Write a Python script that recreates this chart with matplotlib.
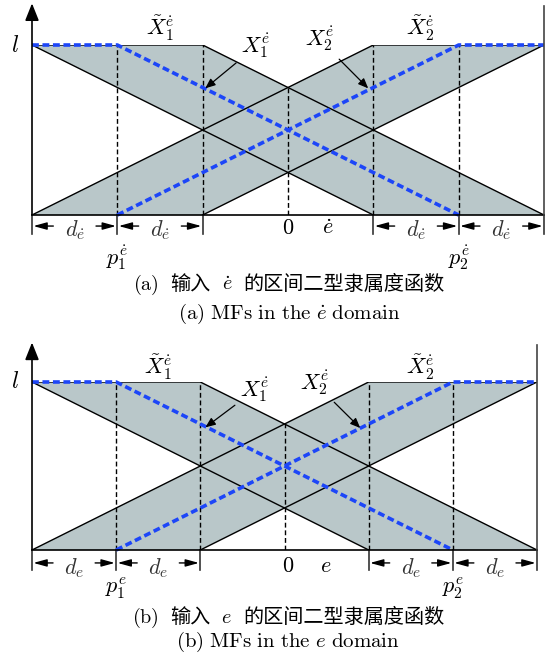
import numpy as np
import matplotlib.pyplot as plt
from matplotlib.offsetbox import TextArea, HPacker, AnnotationBbox

plt.rcParams["mathtext.fontset"] = "cm"
plt.rcParams["font.family"] = ["DejaVu Serif", "Noto Sans CJK SC"]

# Interval type-2 MFs, x in units of d, membership in [0, l]
upper1_x = [-3, -1, 3]
upper1_y = [1, 1, 0]
lower1_x = [-3, 1]
lower1_y = [1, 0]
upper2_x = [-3, 1, 3]
upper2_y = [0, 1, 1]
lower2_x = [-1, 3]
lower2_y = [0, 1]

# Embedded type-1 sets X1, X2
type1_1_x = [-3, -2, 2]
type1_1_y = [1, 1, 0]
type1_2_x = [-2, 2, 3]
type1_2_y = [0, 1, 1]

# Dashed guides and dimension ticks
guide_x = [-2, -1, 0, 1, 2]
guide_top = [1, 1, 0.75, 1, 1]
dim_ticks = [-3, -2, -1, 1, 2, 3]

panel_vars = [r"\dot{e}", "e"]
panel_tags = ["a", "b"]

GRAY = "#b9c7c9"
BLUE = "#1d46f8"
FS = 16
CAP_FS = 14.5


def draw_panel(ax, var, lab):
    ax.set_xlim(-3, 3)
    ax.set_ylim(0, 1)
    ax.set_axis_off()

    # footprints of uncertainty
    for ux, uy, lx, ly in [(upper1_x, upper1_y, lower1_x, lower1_y),
                           (upper2_x, upper2_y, lower2_x, lower2_y)]:
        px = np.concatenate([ux, lx[::-1]])
        py = np.concatenate([uy, ly[::-1]])
        ax.fill(px, py, color=GRAY, lw=0, zorder=1)
        ax.plot(ux, uy, color="black", lw=1.0, zorder=3)
        ax.plot(lx, ly, color="black", lw=1.0, zorder=3)

    for gx, gt in zip(guide_x, guide_top):
        ax.plot([gx, gx], [0, gt], color="black", lw=1.0, ls=(0, (3.5, 2)), zorder=3)

    for tx, ty in [(type1_1_x, type1_1_y), (type1_2_x, type1_2_y)]:
        ax.plot(tx, ty, color=BLUE, lw=2.6, dashes=(1.9, 1.0), zorder=4, clip_on=False)

    # axes
    ax.plot([-3, 3], [0, 0], color="black", lw=1.2, zorder=5, clip_on=False)
    ax.plot([3, 3], [0, lab["top"]], color="#444444", lw=1.2, zorder=5, clip_on=False)
    ax.annotate("", xy=(-3, lab["top"] + 0.015), xytext=(-3, 0),
                arrowprops=dict(arrowstyle="-|>,head_length=0.7,head_width=0.28",
                                color="black", lw=1.2, mutation_scale=15, shrinkA=0, shrinkB=0),
                annotation_clip=False, zorder=5)

    # dimension arrows below the axis
    for tx in dim_ticks:
        ax.plot([tx, tx], [0, lab["tick"]], color="#333333", lw=1.2, clip_on=False)
    for a, b in zip(dim_ticks[:-1], dim_ticks[1:]):
        if a == -1:
            continue
        for s, e in [((a + b) / 2 - 0.25, a), ((a + b) / 2 + 0.25, b)]:
            ax.annotate("", xy=(e, lab["arrow"]), xytext=(s, lab["arrow"]),
                        arrowprops=dict(arrowstyle="-|>,head_length=0.8,head_width=0.22",
                                        color="black", lw=1.0, mutation_scale=10,
                                        shrinkA=0, shrinkB=1),
                        annotation_clip=False)
        ax.text((a + b) / 2, lab["d"], rf"$d_{{{var}}}$", fontsize=FS,
                ha="center", va="center", color="#333333")

    ax.text(lab["zero"], lab["d"] + 0.01, r"$0$", fontsize=FS, ha="center", va="center")
    ax.text(lab["var"], lab["d"] + 0.01, rf"${var}$", fontsize=FS, ha="center", va="center")
    ax.text(-2, lab["p"], rf"$p_1^{{{var}}}$", fontsize=FS, ha="center", va="center")
    ax.text(2, lab["p"], rf"$p_2^{{{var}}}$", fontsize=FS, ha="center", va="center")

    ax.text(-3.2, 1.0, r"$l$", fontsize=FS + 1, ha="center", va="center")
    ax.text(-1.5, lab["tl1"], r"$\tilde{X}_1^{\dot{e}}$", fontsize=FS, ha="center", va="center")
    ax.text(lab["tl2x"], lab["tl1"], r"$\tilde{X}_2^{\dot{e}}$", fontsize=FS, ha="center", va="center")

    ax.annotate(r"$X_1^{\dot{e}}$", xy=lab["h1"], xytext=lab["t1"], fontsize=FS,
                ha="left", va="center",
                arrowprops=dict(arrowstyle="-|>,head_length=0.6,head_width=0.25", color="black",
                                lw=0.9, mutation_scale=10, shrinkA=2, shrinkB=0),
                zorder=6)
    ax.annotate(r"$X_2^{\dot{e}}$", xy=lab["h2"], xytext=lab["t2"], fontsize=FS,
                ha="center", va="center",
                arrowprops=dict(arrowstyle="-|>,head_length=0.6,head_width=0.25", color="black",
                                lw=0.9, mutation_scale=10, shrinkA=2, shrinkB=0),
                zorder=6)


def caption(fig, x, y_cn, y_en, tag, var):
    cn = dict(family=["Noto Sans CJK SC"], fontsize=CAP_FS)
    mt = dict(fontsize=CAP_FS)
    parts = [TextArea(rf"$\mathrm{{({tag})}}$", textprops=mt),
             TextArea("输入", textprops=cn),
             TextArea(rf"${var}$", textprops=mt),
             TextArea("的区间二型隶属度函数", textprops=cn)]
    box = HPacker(children=parts, sep=8, align="baseline", pad=0)
    fig.add_artist(AnnotationBbox(box, (x, y_cn), xycoords="figure fraction",
                                  frameon=False, box_alignment=(0.5, 0.5)))
    fig.text(x, y_en, rf"$\mathrm{{({tag})\ MFs\ in\ the\ }}{var}\mathrm{{\ domain}}$",
             fontsize=CAP_FS + 0.5, ha="center", va="baseline")


W, H = 551, 655
fig = plt.figure(figsize=(W / 100, H / 100), dpi=100)

ax_top = fig.add_axes([32 / W, (H - 215) / H, 512 / W, 170 / H])
draw_panel(ax_top, panel_vars[0], dict(
    top=1.23, tick=-0.11, arrow=-0.065, d=-0.088, zero=0.0, var=0.47, p=-0.253,
    tl1=1.10, tl2x=1.55,
    t1=(-0.55, 0.99), h1=(-0.97, 0.745),
    t2=(0.375, 1.03), h2=(0.94, 0.745)))

ax_bot = fig.add_axes([32 / W, (H - 550) / H, 505 / W, 168 / H])
draw_panel(ax_bot, panel_vars[1], dict(
    top=1.22, tick=-0.12, arrow=-0.077, d=-0.107, zero=0.04, var=0.49, p=-0.226,
    tl1=1.085, tl2x=1.61,
    t1=(-0.53, 0.95), h1=(-0.94, 0.73),
    t2=(0.36, 0.994), h2=(0.9, 0.726)))

caption(fig, 289 / W, 1 - 285 / H, 1 - 319 / H, panel_tags[0], panel_vars[0])
caption(fig, 288 / W, 1 - 618 / H, 1 - 647 / H, panel_tags[1], panel_vars[1])

fig.savefig("out.png", dpi=100)
